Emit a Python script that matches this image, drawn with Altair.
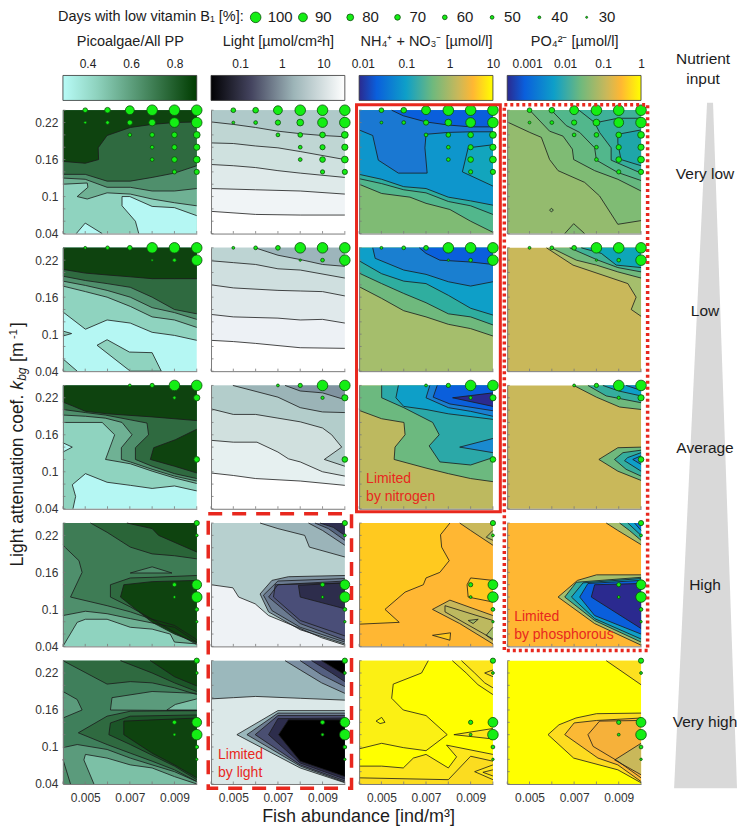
import altair as alt
import pandas as pd

FONT = "Liberation Sans"
# closure corners (fish x 1e4, kbg x 100)
TR, TL, BL, BR = (100, 24), (40, 24), (40, 4), (100, 4)

G0, G1, G2, G3, G4, G5 = "#b5f7f3", "#8fd3bf", "#6fb194", "#4f8f6c", "#2f6a40", "#0e430f"
NAVY, BLUE, AZURE, CYAN, TEAL, SEA, GRN, SAGE, OLIVE = "#2b2a8f", "#0a5fdc", "#1a7fd0", "#0e9fc8", "#2fae9f", "#52b78c", "#7fbb74", "#a5be6c", "#c9b85a"
ORANGE, AMBER, YEL = "#ffb733", "#ffc91f", "#ffff00"

# every region: colour, contour x, contour y, closing corners
R1C1 = [(G1, [], [], [TR, TL, BL, BR]),
 (G0, [74, 72.5, 66.5, 66.5, 70, 80, 90, 100], [4, 6, 8.5, 10, 10, 8.4, 8.2, 6.9], [BR]),
 (G0, [46, 50, 57.6], [4, 5.7, 4], []),
 (G2, [40, 50.9, 51.2, 46.4, 50.9, 59.8, 70.2, 80, 90, 100], [12, 12.2, 11.5, 10, 9.6, 10.6, 10.4, 9.6, 9, 8.5], [TR, TL]),
 (G3, [40, 50, 59.8, 70.2, 80, 90, 100], [13, 12.8, 11.5, 11.5, 10.9, 10.9, 11.3], [TR, TL]),
 (G4, [40, 50, 59.8, 70.2, 80, 90, 100], [13.6, 13.6, 12.5, 12.5, 13.1, 13.8, 15], [TR, TL]),
 (G5, [40, 50, 56, 55.8, 59.8, 70.2, 80, 90, 100], [15.7, 15.4, 16, 17.9, 19.9, 21.2, 21.7, 22, 22.1], [TR, TL])]
R1C2 = [("#ffffff", [], [], [TR, TL, BL, BR]),
 ("#f0f4f6", [40, 60, 80, 100], [7.6, 7.1, 7, 7], [TR, TL]),
 ("#dfeaea", [40, 60, 80, 100], [11.3, 11.1, 10.9, 10.4], [TR, TL]),
 ("#cfe1df", [40, 50, 60, 70, 80, 100], [15.2, 15, 14.7, 14.2, 13.8, 13.1], [TR, TL]),
 ("#bfd6d3", [40, 50, 60, 70, 80, 100], [18.7, 18.6, 18.2, 17.9, 17.3, 16], [TR, TL]),
 ("#afc9c9", [40, 50, 60, 70, 80, 90, 100], [22.1, 21.7, 21.2, 20.6, 20.2, 19.9, 19.7], [TR, TL])]
R1C3 = [(GRN, [], [], [TR, TL, BL, BR]),
 (SEA, [40, 50.1, 62.8, 70, 80.7, 90, 100], [12, 10.5, 9.9, 8.9, 7.9, 6, 4.2], [TR, TL]),
 (TEAL, [40, 50.1, 60, 70, 80, 90, 100], [12.9, 12.1, 11.1, 10.6, 9.2, 8.5, 7.1], [TR, TL]),
 ("#0e96cc", [40, 50.1, 60, 70, 80, 90, 100], [13.6, 12.8, 11.6, 11.3, 9.9, 9.3, 8.6], [TR, TL]),
 ("#12a5bd", [100, 86.3, 88.9, 100], [11.7, 14, 17.9, 18.4], []),
 ("#1a78d2", [40, 46.1, 48.6, 57.6, 70.5, 69.5, 70, 80, 90, 100], [20.8, 19.9, 15.9, 13.8, 13.8, 17.9, 20.1, 20.4, 20.5, 20.5], [TR, TL]),
 (BLUE, [54.6, 59.8, 70, 80, 90, 100], [24, 23.1, 22.1, 21.6, 21.3, 21.3], [TR])]
R1C4 = [("#94bb6e", [], [], [TR, TL, BL, BR]),
 ("#83ba70", [65.8, 69.8, 74.7], [4, 5.6, 4], []),
 ("#83ba70", [59, 59.8, 60.7, 59.8, 59], [7.8, 8.1, 7.8, 7.5, 7.8], []),
 (GRN, [40, 50.1, 55.3, 59, 62.8, 74.7, 81.4, 89.6, 100], [22.1, 20.4, 19.6, 16, 14.2, 12.3, 10.1, 5.5, 6.1], [TR, TL]),
 ("#66b87f", [50.1, 59, 65, 69.2, 69.8, 79.2, 89.6, 100], [24, 20.6, 19.8, 17.7, 16, 14.2, 12.8, 10.9], [TR]),
 (SEA, [59.8, 66.5, 72.5, 79.2, 80, 89.6, 100], [24, 21.5, 20.4, 17.9, 15.9, 13.9, 12.6], [TR]),
 ("#35ad9d", [72.2, 79.2, 81.4, 86.6, 86.6, 100], [24, 22, 20.4, 17.9, 15.9, 13.8], [TR]),
 ("#3fb199", [80, 89.6, 100], [22, 22.7, 22.7], [TR, (72, 24)]),
 ("#1fa6a9", [100, 89.6, 89.6, 91, 100], [20.8, 20.1, 18.7, 16, 15], [])]

R2C1 = [(G0, [], [], [TR, TL, BL, BR]),
 (G1, [40, 46.4], [6, 4], [BL]),
 (G1, [40, 43.9, 40], [10.5, 10.1, 9.7], []),
 (G1, [55.3, 59.8, 69.8, 80, 84.1, 70.2, 55.3], [8.2, 9.1, 7.1, 7, 4, 4, 8.2], []),
 (G1, [40, 50.1, 59.8, 70.2, 80, 90, 100], [13.6, 10.8, 12.3, 11.8, 10.3, 9.8, 9], [TR, TL]),
 (G2, [40, 50.1, 59.8, 70.2, 80, 90, 100], [17.8, 16.9, 16, 14.5, 12.8, 12.3, 11.1], [TR, TL]),
 (G3, [40, 50.1, 59.8, 70.2, 80, 90, 100], [18.6, 17.9, 17.1, 16, 14.3, 13.5, 12.4], [TR, TL]),
 (G4, [40, 50.1, 59.8, 70.2, 80, 90, 100], [19.4, 18.7, 18.2, 17.6, 16, 14, 13.3], [TR, TL]),
 (G5, [40, 50.1, 59.8, 70.2, 80, 90, 100], [20.5, 19.9, 19.6, 19.3, 19, 19, 19], [TR, TL])]
R2C2 = [("#ffffff", [], [], [TR, TL, BL, BR]),
 ("#edf1f5", [40, 50, 60, 80, 100], [9, 8.8, 8.5, 7.8, 7.7], [TR, TL]),
 ("#e0e9eb", [40, 50, 70, 80, 90, 100], [13.2, 12.8, 12.6, 12.3, 12.4, 11.8], [TR, TL]),
 ("#cfdfdf", [40, 50, 70, 80, 90, 100], [18, 17.5, 17.1, 17, 16.9, 16.2], [TR, TL]),
 ("#bdd4d3", [40, 50, 60, 70, 80, 100], [21.9, 21.6, 21.3, 20.6, 20.4, 19.1], [TR, TL]),
 ("#9db5bb", [59.8, 70, 80, 90, 100], [24, 22.8, 22.1, 21.3, 21], [TR])]
R2C3 = [(SAGE, [], [], [TR, TL, BL, BR]),
 ("#6fb97d", [40, 50.1, 60, 70, 80, 90, 100], [17.7, 15.8, 13.8, 12.8, 11.6, 10.9, 9.7], [TR, TL]),
 (TEAL, [40, 50.1, 60, 70, 80, 90, 100], [19.9, 18.2, 16.6, 15.1, 13.3, 12.8, 11.5], [TR, TL]),
 (CYAN, [40, 50.1, 60, 70, 80, 90, 100], [21.9, 19.8, 18.6, 18.2, 16.3, 14.2, 13.1], [TR, TL]),
 (AZURE, [46.1, 47.2, 60, 70, 80, 90, 100], [24, 22.3, 20.4, 19.7, 18.5, 17.8, 18.5], [TR]),
 (BLUE, [67, 70, 76.2, 90, 100], [24, 23.1, 22, 21.7, 21.3], [TR])]
R2C4 = [(OLIVE, [], [], [TR, TL, BL, BR]),
 (SAGE, [57.6, 69.5, 94.1, 97.8, 95.6, 100], [24, 21.2, 18.2, 16, 14, 12.9], [TR]),
 ("#6fb97d", [59.8, 71, 80, 89.6, 100], [24, 22, 21.2, 20.1, 19.1], [TR]),
 ("#40b296", [68, 80.7, 89.6, 100], [24, 22, 20.8, 20.1], [TR]),
 ("#0ea6b8", [73.2, 82.2, 88.9, 100], [24, 23.1, 21.2, 20.8], [TR])]

R3C1 = [(G0, [], [], [TR, TL, BL, BR]),
 (G1, [44.5, 45.7, 44.2, 50.1, 59.8, 70.2, 80, 90, 100], [4, 6, 7.9, 9.7, 8.3, 7.8, 7.3, 7.7, 6.9], [TR, TL, BL]),
 (G0, [40, 44.2, 40], [14.7, 14, 13.2], []),
 (G2, [40, 57.6, 63.2, 59.1, 70.2, 80, 90, 100], [18, 18, 16, 12, 11.3, 10.1, 9, 8.1], [TR, TL]),
 (G3, [40, 50.1, 59, 66.5, 71, 66.2, 66.2, 70.2, 80, 90, 100], [19.2, 19, 18.7, 18, 16, 13.9, 12, 11.6, 10.4, 9.3, 8.5], [TR, TL]),
 (G4, [40, 50.1, 59, 77.7, 78.4, 72.5, 72.5, 80, 90, 100], [20.1, 19.6, 19.2, 17.9, 16, 13.9, 12, 10.9, 9.7, 8.9], [TR, TL]),
 (G5, [40, 44.2, 50.1, 59.8, 80, 100], [21.3, 20.7, 19.8, 19.4, 18.9, 18.3], [TR, TL]),
 (G5, [100, 90.4, 80.7, 79.2, 90, 100], [16.9, 15.2, 13.9, 12, 10.9, 9.8], [])]
R3C2 = [("#ffffff", [], [], [TR, TL, BL, BR]),
 ("#e6f0f0", [40, 50, 60, 80, 100], [9.8, 9.4, 8.9, 8.5, 7.8], [TR, TL]),
 ("#d0e0de", [40, 50, 60.6, 70, 74.7, 80, 90, 100], [15.1, 14.8, 14.8, 13.2, 12.1, 11.6, 10, 9.3], [TR, TL]),
 ("#b3cdcb", [40, 50, 60, 70, 80, 90, 94.1, 98.6, 90.8, 100], [20.2, 19.3, 19.3, 18.7, 18.1, 17.1, 16, 14, 12, 10.9], [TR, TL]),
 ("#9bb4b7", [49.8, 70, 80, 90, 100], [24, 22.1, 20.4, 19.7, 19.6], [TR]),
 ("#8093a0", [73.2, 80, 90, 100], [24, 23.1, 22.8, 21.7], [TR])]
R3C3 = [("#bdb95f", [], [], [TR, TL, BL, BR]),
 ("#6cb97f", [40, 40.4, 50.1, 60.1, 60.6, 56.1, 55.7, 70, 80, 90, 100], [20.2, 19.9, 18.6, 18, 16, 14, 12, 10.6, 9.7, 8.9, 8.4], [TR, TL]),
 ("#2ba8a8", [50.1, 50.1, 60, 73, 75.9, 71.4, 76.2, 90, 100], [24, 22, 20.4, 18, 16, 14.2, 11.6, 11.1, 12.3], [TR]),
 (CYAN, [57.6, 56.5, 60, 70, 80, 100], [24, 22, 20.6, 20.1, 19.4, 18.5], [TR]),
 ("#1a8ad0", [100, 85.1, 100], [15.4, 14, 13.1], []),
 (AZURE, [71.7, 70, 80, 90, 100], [24, 22, 20.4, 19.8, 19], [TR]),
 (BLUE, [75, 73.2, 80.7, 100], [24, 22.1, 21, 19.9], [TR]),
 (NAVY, [100, 81.9, 100], [22.8, 22, 20.6], [])]
R3C4 = [(OLIVE, [], [], [TR, TL, BL, BR]),
 ("#6fb97d", [69.8, 80, 90.4, 100], [24, 22.1, 20.5, 20.1], [TR]),
 ("#35ad9d", [76.2, 84.4, 100], [24, 22.3, 21.2], [TR]),
 (CYAN, [82.9, 90, 100], [24, 23.1, 22.3], [TR]),
 (AZURE, [93.3, 100], [24, 23.2], [TR]),
 ("#6fb97d", [100, 89.6, 81.1, 89.6, 100], [14, 13.9, 12, 10.1, 8.6], []),
 ("#35ad9d", [100, 91.9, 88.1, 93.3, 100], [13.5, 13.1, 12, 10.4, 9.3], []),
 (CYAN, [100, 94, 92.6, 100], [13.1, 12.3, 11.8, 10.1], []),
 (AZURE, [100, 96.3, 100], [12.6, 12, 11.2], [])]

R4C1 = [(G1, [], [], [TR, TL, BL, BR]),
 (G2, [40, 46.4, 50.1, 59.8, 70.2, 80, 88.1, 90, 100], [4, 7.9, 8.4, 8.4, 7.1, 6.8, 6, 4.7, 4.4], [TR, TL, BL]),
 (G3, [40, 50.1, 59.8, 70.2, 80, 90, 100], [9, 9.7, 9.3, 8.5, 7.8, 7.1, 4.7], [TR, TL]),
 ("#3e7c55", [40, 47.2, 48.6, 43.4, 59.8, 70.2, 80, 90, 100], [20.4, 17.9, 16, 12, 10.6, 9.6, 8.4, 7.4, 5.1], [TR, TL]),
 (G3, [70.2, 80, 88.9, 70.2], [15.9, 16.9, 15.9, 15.9], []),
 ("#2a6538", [52.4, 59.8, 70.2, 80, 90, 100], [24, 22.5, 20.1, 19, 18.7, 18.2], [TR]),
 (G5, [68.7, 80, 82.9, 100], [24, 23.1, 22, 19.3], [TR]),
 (G4, [100, 80, 70.2, 61.3, 61.3, 70.2, 80, 90, 100], [15.5, 15.2, 15.1, 14, 12, 10.4, 8.4, 6.3, 4.3], []),
 (G5, [100, 80, 67.3, 65.8, 80, 90, 100], [14.7, 14.5, 14, 12, 7.9, 6, 4.6], [])]
R4C2 = [("#eef2f5", [], [], [TR, TL, BL, BR]),
 ("#b7d0cf", [40, 49.8, 52.4, 59.8, 65.8, 80, 89.6, 100], [14, 13.5, 12, 10.9, 9, 6.9, 5.4, 4.2], [TR, TL]),
 ("#9bb4b9", [62, 70, 82, 84.1, 100], [24, 23.1, 22, 20.1, 18.5], [TR]),
 ("#7a8ea0", [83.7, 90, 100], [24, 22.8, 20.4], [TR]),
 ("#566580", [86.6, 92.6, 100], [24, 23.1, 21.2], [TR]),
 ("#2f2f4f", [88.9, 94.8, 100], [24, 23.3, 22], [TR]),
 ("#8094a2", [100, 74.7, 67.3, 62, 65.8, 80, 100], [15.5, 15.3, 14.7, 12.5, 9.6, 6.7, 4.4], []),
 ("#6a7a90", [100, 70, 63.5, 67.3, 80, 100], [15, 14.6, 12.3, 9.8, 7.1, 4.7], []),
 ("#545c7e", [100, 70, 65.8, 80, 100], [14.6, 14, 12, 7.7, 5], []),
 ("#4a4e78", [100, 68.8, 68, 80, 100], [14.3, 14, 12, 8.2, 5.7], []),
 ("#2d2d4c", [100, 79.2, 80, 100], [14.3, 13.9, 12, 10.1], [])]
R4C3 = [(ORANGE, [], [], [TR, TL, BL, BR]),
 (AMBER, [80.7, 76.5, 77, 80.4, 76.2, 70, 68.8, 60.6, 51.6, 58, 40], [24, 22.1, 20.1, 17.9, 16, 15.1, 14, 12.8, 10, 7.9, 7.6], [TL]),
 (AMBER, [72.9, 81, 80.7, 72.9], [5.8, 6.2, 5, 5.8], []),
 (AMBER, [100, 90, 88.4, 88.9, 100], [14.7, 15.1, 14, 12, 11.2], []),
 (OLIVE, [85.1, 90, 100], [24, 22.8, 20.4], [TR]),
 (SAGE, [100, 97, 100], [22.8, 21.7, 21.2], []),
 (OLIVE, [100, 80.7, 72.9, 85.1, 100], [9, 11.5, 10, 7.7, 4.4], []),
 ("#bdb95f", [100, 78.5, 78.5, 100], [8.2, 10.6, 9.6, 5.2], []),
 (SAGE, [88.9, 93.4, 91.1, 88.9], [8.2, 8.4, 7.7, 8.2], []),
 (SAGE, [100, 97, 100], [7.1, 5.8, 5], [])]
R4C4 = [(ORANGE, [], [], [TR, TL, BL, BR]),
 (SAGE, [84.4, 89.6, 100], [24, 22.8, 20.5], [TR]),
 ("#35ad9d", [90.4, 94.8, 100], [24, 22.8, 21.2], [TR]),
 (CYAN, [94.1, 100], [24, 22], [TR]),
 ("#0a6fdc", [97.1, 100], [24, 22.8], [TR]),
 (SAGE, [100, 80, 71.5, 62.8, 79.2, 100], [15.6, 15.6, 14.7, 12, 7.7, 4.2], []),
 ("#35ad9d", [100, 71, 65.8, 79.2, 100], [15.2, 14.4, 12, 8.2, 4.7], []),
 (CYAN, [100, 74, 68.8, 79.2, 100], [15, 14.3, 12, 8.5, 5.2], []),
 (BLUE, [100, 76.2, 72.5, 79.2, 100], [14.7, 14.2, 12, 9, 6], []),
 (NAVY, [100, 79.2, 77.7, 100], [14.2, 14, 12, 6.9], [])]

D1, D2, D3 = "#3f7f5b", "#1c5528", "#5b9b7c"
R5C1 = [(D3, [], [], [TR, TL, BL, BR]),
 ("#7cc0a6", [53.9, 49.4, 50.1, 59.8, 70.2, 80, 90, 100], [4, 7.9, 8.8, 8.2, 7.1, 6.6, 5.2, 4], []),
 (G3, [40, 43.4], [8, 4], [BL]),
 (D1, [40, 46.4, 59.8, 70.2, 80, 90, 100], [9.9, 10.4, 9.6, 8.2, 7.1, 6, 4.4], [TR, TL]),
 (D3, [40, 46.4, 48.6, 40], [19, 17.7, 16, 14.7], []),
 (D3, [100, 80, 62, 61.3, 100], [18.7, 19, 18, 16, 15.9], []),
 ("#7cc0a6", [100, 90.4, 86.6, 100], [17.8, 16.9, 16, 16], []),
 (G4, [40, 59.8, 70.2, 80, 90, 100], [24, 20.2, 20.6, 20.4, 19.6, 18.5], [TR]),
 (D2, [65.8, 80, 90, 100], [24, 22, 20.4, 19], [TR]),
 (G5, [79.2, 90, 100], [24, 21.4, 19.9], [TR]),
 (G4, [100, 70.2, 59.8, 46.9, 59.8, 70.2, 80, 90, 100], [15.9, 15.8, 15, 12.3, 10.4, 9, 7.7, 6.3, 4.4], []),
 (D2, [100, 70.2, 61.3, 60.6, 70.2, 90, 100], [15.2, 15, 13.9, 12, 10.4, 6.9, 4.7], []),
 (G5, [100, 67.3, 67.3, 80, 90, 100], [14.7, 14.2, 12, 9, 7.1, 5], [])]
R5C2 = [("#dbe8e8", [], [], [TR, TL, BL, BR]),
 ("#9bb8bc", [40, 50, 60, 80, 100], [17.8, 18, 18.2, 17.9, 17.6], [TR, TL]),
 ("#7b8fa2", [73.2, 80, 89.6, 100], [24, 22.5, 20.4, 18.7], [TR]),
 ("#545f80", [80, 89.6, 100], [24, 21.7, 19.8], [TR]),
 ("#2f2f4f", [85.1, 94.1, 100], [24, 22, 20.6], [TR]),
 ("#000000", [89.6, 100], [24, 21.7], [TR]),
 ("#9bb8bc", [100, 70, 51.6, 80, 100], [15.9, 15.9, 12, 6.6, 4.2], []),
 ("#6c7c90", [100, 70, 56.1, 80, 100], [15.5, 15.5, 12, 6.9, 4.3], []),
 ("#4a4f72", [100, 70, 59.8, 80, 100], [15.1, 15.1, 12, 7.1, 4.5], []),
 ("#2d2d4c", [100, 70, 65.8, 80, 100], [14.7, 14.6, 12, 7.4, 4.8], []),
 ("#000000", [100, 74.7, 70.3, 80, 100], [14.4, 14.4, 12, 7.7, 5.2], [])]
DEEP1, DEEP2, DEEP3 = "#fbf014", "#fde61c", "#fbdc20"
R5C3 = [(YEL, [], [], [TR, TL, BL, BR]),
 (DEEP1, [71, 68, 55.3, 54.6, 59.8, 70, 79.5, 70, 59.8, 50.1, 40], [24, 22, 20.2, 17.9, 16, 15.1, 12, 9.4, 9.9, 10.6, 9.7], [TL]),
 (YEL, [47.6, 50.1, 51.6, 49.4, 47.6], [14.2, 14.8, 14, 13.8, 14.2], []),
 (DEEP2, [40, 50.1, 59.8, 64.3, 70, 80, 83.7, 79.2, 100], [6.9, 6.9, 6.6, 8.2, 8.8, 6.6, 8.4, 10.3, 8.8], [BR, BL]),
 (DEEP3, [40, 80, 90, 100], [5, 4.7, 8.5, 7.7], [BR, BL]),
 (DEEP2, [100, 91.8, 100], [7.1, 6, 4.7], []),
 (DEEP3, [100, 95.5, 100], [6.3, 5.9, 5.3], []),
 (DEEP1, [81.8, 88, 93.3, 100], [24, 22, 20.1, 18.5], [TR]),
 (DEEP2, [85.9, 91.8, 96.3, 100], [24, 22, 20.4, 19.6], [TR]),
 (DEEP3, [100, 96.3, 100], [22.5, 22, 21.4], []),
 (DEEP2, [100, 82.5, 100], [13, 12, 11.3], [])]
R5C4 = [(YEL, [], [], [TR, TL, BL, BR]),
 ("#fde01f", [84.4, 100], [24, 20.1], [TR]),
 ("#fddc20", [100, 80, 70.8, 63.2, 58.3, 69.8, 89.6, 100], [15.5, 15.4, 14.7, 13.6, 12, 8.2, 6.3, 4.2], []),
 ("#fbb935", [100, 80, 70, 65.8, 80.7, 89.6, 100], [14.7, 14.3, 13.9, 12, 8.2, 7.1, 4.4], []),
 ("#f6b13a", [100, 81.4, 76.2, 78.5, 89.6, 100], [14.3, 14.2, 12, 10.1, 7.7, 5], []),
 (OLIVE, [100, 88.2, 100], [10.6, 7.9, 5.5], [])]

PANELS = [[R1C1, R1C2, R1C3, R1C4], [R2C1, R2C2, R2C3, R2C4], [R3C1, R3C2, R3C3, R3C4],
          [R4C1, R4C2, R4C3, R4C4], [R5C1, R5C2, R5C3, R5C4]]

# bubbles per row: (fish x 1e4, kbg x 100, days with low vitamin B1 %)
B1 = [(50,24,60),(60,24,70),(70,24,90),(80,24,100),(90,24,100),(100,24,100),
      (50,22,40),(60,22,50),(70,22,65),(80,22,80),(90,22,95),(100,22,100),
      (70,20,50),(80,20,60),(90,20,70),(100,20,80),
      (80,18,50),(90,18,65),(100,18,75),(80,16,50),(90,16,70),(100,16,80),(90,14,55),(100,14,65)]
B2 = [(50,24,40),(60,24,50),(70,24,60),(80,24,100),(90,24,100),(100,24,100),(80,22,33),(90,22,50),(100,22,100)]
B3 = [(70,24,40),(80,24,55),(90,24,100),(100,24,100),(90,22,45),(100,22,75),(100,12,70)]
B4 = [(100,24,65),(100,22,40),(90,14,55),(100,14,95),(90,12,40),(100,12,100),(100,10,50),(100,8,35)]
BUBBLES = [B1, B2, B3, B4, B4]

P_DOMAIN = [30, 40, 50, 60, 70, 80, 90, 100]
P_RANGE = [4, 8, 14, 22, 32, 46, 78, 112]
LEG_RANGE = [8, 14, 22, 32, 44, 60, 88, 120]
LEG_P = [100, 90, 80, 70, 60, 50, 40, 30]

W, H, XGAP, YGAP = 134, 123.5, 14.3, 13.8
XO = [62 + i * (W + XGAP) for i in range(5)]
YO = [111 + i * (H + YGAP) for i in range(5)]
X5, Y5 = XO[4], YO[4]
XS = alt.Scale(domain=[0.004, 0.010], nice=False, zero=False)
YS = alt.Scale(domain=[0.04, 0.24], nice=False, zero=False)
XTICK = [0.004 + 0.001 * i for i in range(7)]
YTICK = [0.04 + 0.02 * i for i in range(11)]
AXC = "#7a7a7a"


def panel(regions, bubbles, r, c):
    layers = []
    xaxis = alt.Axis(values=[0.005, 0.007, 0.009], format=".3f", ticks=False, grid=False, title=None, zindex=1,
                     labels=r == 4, domainColor=AXC, labelFontSize=12, labelColor="#333333", labelPadding=9, labelFont=FONT)
    yaxis = alt.Axis(values=[0.04, 0.1, 0.16, 0.22], format="~g", ticks=False, grid=False, title=None, zindex=1,
                     labels=c == 0, domainColor=AXC, labelFontSize=12, labelColor="#333333", labelPadding=5, labelFont=FONT)
    X = alt.X("x:Q", scale=XS, axis=xaxis)
    Y = alt.Y("y:Q", scale=YS, axis=yaxis)
    lines = []
    for ri, (col, xs, ys, corners) in enumerate(regions):
        pts = list(zip(xs, ys)) + list(corners)
        d = pd.DataFrame([{"k": k, "x": x / 1e4, "y": y / 100} for k, (x, y) in enumerate(pts)])
        layers.append(alt.Chart(d).mark_line(interpolate="linear-closed", fill=col, strokeWidth=0, clip=False).encode(
            x=X, y=Y, order="k:Q"))
        for k, (x, y) in enumerate(zip(xs, ys)):
            lines.append({"r": ri, "k": k, "x": x / 1e4, "y": y / 100})
    contour = alt.Chart(pd.DataFrame(lines)).mark_line(color="#1a1a1a", strokeWidth=0.8, interpolate="linear").encode(
        x=X, y=Y, order="k:Q", detail="r:N")
    xt = alt.Chart(pd.DataFrame({"x": XTICK})).mark_rule(color=AXC, strokeWidth=0.8).encode(
        x=X, y=alt.value(H), y2=alt.value(H - 2.5))
    yt = alt.Chart(pd.DataFrame({"y": YTICK})).mark_rule(color=AXC, strokeWidth=0.8).encode(
        y=Y, x=alt.value(0), x2=alt.value(2.5))
    bdf = pd.DataFrame([{"x": a / 1e4, "y": b / 100, "p": p} for a, b, p in bubbles])
    dots = alt.Chart(bdf).mark_point(filled=True, fill="#14ee14", stroke="#0b4d0b", strokeWidth=0.8, opacity=1, shape="circle", clip=False).encode(
        x=X, y=Y, size=alt.Size("p:Q", scale=alt.Scale(domain=P_DOMAIN, range=P_RANGE), legend=None))
    return layers + [contour, xt, yt, dots]


RED = "#e8281e"
def note(l1, l2):
    out = []
    for t, py in ((l1, 94), (l2, 112)):
        d = pd.DataFrame({"t": [t]})
        out.append(alt.Chart(d).mark_text(align="left", baseline="middle", font=FONT, fontSize=14, color=RED).encode(
            x=alt.value(7), y=alt.value(py), text="t:N"))
    return out


NOTES = {(2, 2): ("Limited", "by nitrogen"), (3, 3): ("Limited", "by phosphorous"), (4, 1): ("Limited", "by light")}

STOP_MAP = [(0, NAVY), (0.13, BLUE), (0.35, CYAN), (0.55, "#6fb97d"), (0.74, OLIVE), (0.85, ORANGE), (1, YEL)]
BARS = [
    ("Picoalgae/All PP", [0.287, 0.902], "linear", [0.4, 0.6, 0.8], [(0, "#b8fbf7"), (0.25, "#8fd3bf"), (1, "#003c00")]),
    ("Light [µmol/cm²h]", [0.02, 32.7], "log", [0.1, 1, 10], [(0, "#020204"), (0.3, "#44445f"), (0.62, "#9db5b8"), (1, "#ffffff")]),
    ("NH₄⁺ + NO₃⁻ [µmol/l]", [0.0082, 10], "log", [0.01, 0.1, 1, 10], STOP_MAP),
    ("PO₄²⁻ [µmol/l]", [0.0003, 1], "log", [0.001, 0.01, 0.1, 1], STOP_MAP),
]


def bar(title, dom, typ, vals, stops):
    grad = alt.Gradient(gradient="linear", x1=0, x2=1, y1=0, y2=0,
                        stops=[alt.GradientStop(offset=o, color=c) for o, c in stops])
    d = pd.DataFrame({"a": [dom[0]], "b": [dom[1]]})
    return alt.Chart(d).mark_rect(fill=grad, stroke="#333333", strokeWidth=0.8).encode(
        x=alt.X("a:Q", scale=alt.Scale(type=typ, domain=dom, nice=False, zero=False),
                axis=alt.Axis(orient="top", values=vals, format="~g", ticks=False, domain=False, grid=False,
                              labelFont=FONT, labelFontSize=12, labelColor="#222222", labelPadding=5, labelFlush=False,
                              title=title, titleFont=FONT, titleFontSize=14.5, titleFontWeight="normal", titleColor="#222222", titlePadding=9)),
        x2="b:Q", y=alt.value(0), y2=alt.value(25)).properties(width=W, height=YO[0] - YGAP - 77)


def txt(items, size=14, angle=0, align="center", style="normal"):
    d = pd.DataFrame([{"t": t, "px": x - X5, "py": y - Y5} for t, x, y in items])
    return alt.Chart(d).mark_text(font=FONT, fontSize=size, angle=angle, align=align, baseline="middle",
                                  fontStyle=style, color="#1c1c1c", clip=False).encode(
        x=alt.X("px:Q", scale=None, axis=None), y=alt.Y("py:Q", scale=None, axis=None), text="t:N")


def box(x0, y0, x1, y1, width, dash=None):
    kw = {"strokeDash": dash} if dash else {}
    return alt.Chart(pd.DataFrame({"v": [0]})).mark_rect(fill="transparent", stroke=RED, strokeWidth=width, clip=False, **kw).encode(
        x=alt.value(x0 - X5), x2=alt.value(x1 - X5), y=alt.value(y0 - Y5), y2=alt.value(y1 - Y5))


# page furniture, all drawn in the last panel so it stays on top
TRI_X = [674, 707, 713, 737]
TRI_Y = [788, 101.5, 101.5, 788]
tri = alt.Chart(pd.DataFrame({"k": range(4), "px": [v - X5 for v in TRI_X], "py": [v - Y5 for v in TRI_Y]})).mark_line(
    interpolate="linear-closed", fill="#d9d9d9", strokeWidth=0, clip=False).encode(
    x=alt.X("px:Q", scale=None, axis=None), y=alt.Y("py:Q", scale=None, axis=None), order="k:Q")

LEG_Y = 16
LEG_STEP = 47.35
leg = pd.DataFrame({"p": LEG_P, "px": [255 + i * LEG_STEP - X5 for i in range(8)], "py": [LEG_Y - Y5] * 8,
                    "tx": [267 + i * LEG_STEP - X5 for i in range(8)], "lab": [str(v) for v in LEG_P]})
leg_dots = alt.Chart(leg).mark_point(filled=True, fill="#14ee14", stroke="#0b4d0b", strokeWidth=0.8, opacity=1, shape="circle", clip=False).encode(
    x=alt.X("px:Q", scale=None, axis=None), y=alt.Y("py:Q", scale=None, axis=None),
    size=alt.Size("p:Q", scale=alt.Scale(domain=P_DOMAIN, range=LEG_RANGE), legend=None))
leg_txt = alt.Chart(leg).mark_text(font=FONT, fontSize=15, align="left", baseline="middle", color="#1c1c1c", clip=False).encode(
    x=alt.X("tx:Q", scale=None, axis=None), y=alt.Y("py:Q", scale=None, axis=None), text="lab:N")

SIDE = ["Very low", "Low", "Average", "High", "Very high"]
furniture = [
    tri,
    txt([(SIDE[i], 705, YO[i] + H / 2) for i in range(5)], size=15.5),
    leg_dots, leg_txt,
    txt([("Days with low vitamin B₁ [%]:", 57, LEG_Y)], size=14.5, align="left"),
    txt([("Nutrient", 703, 58), ("input", 703, 78)], size=15.5),
    txt([("Fish abundance [ind/m³]", 358, 817)], size=18),
    txt([("Light attenuation coef. ", 17, 566)], size=17.5, angle=270, align="left"),
    txt([("k", 17, 389)], size=17.5, angle=270, align="left", style="italic"),
    txt([("bg", 21, 380)], size=12, angle=270, align="left", style="italic"),
    txt([("[m", 17, 361)], size=17.5, angle=270, align="left"),
    txt([("-1", 13, 338)], size=11, angle=270, align="left"),
    txt([("]", 17, 326)], size=17.5, angle=270, align="left"),
    box(356, 103.5, 500, 511, 3),
    box(504, 103.5, 647.5, 650, 3.5, [3, 3]),
    box(207.5, 513, 351, 788, 3.5, [14, 10]),
]

blank = alt.Chart(pd.DataFrame({"t": [""]})).mark_text().encode(text="t:N")
cells = [bar(*b) for b in BARS]
cells.append(blank.properties(width=75, height=YO[0] - YGAP - 77))
for r in range(5):
    for c in range(4):
        layers = panel(PANELS[r][c], BUBBLES[r], r, c)
        if (r, c) in NOTES:
            layers += note(*NOTES[(r, c)])
        cells.append(alt.layer(*layers).properties(width=W, height=H))
    if r < 4:
        cells.append(blank.properties(width=75, height=H))
    else:
        cells.append(alt.layer(*furniture).properties(width=75, height=H))

chart = alt.concat(*cells, columns=5, spacing=alt.RowColnumber(row=YGAP, column=XGAP), bounds="flush").properties(
    padding={"left": 0, "top": 0, "right": 0, "bottom": 0}
).configure_view(stroke=None)

chart.save("out.html", embed_options={"renderer": "svg", "actions": False})
